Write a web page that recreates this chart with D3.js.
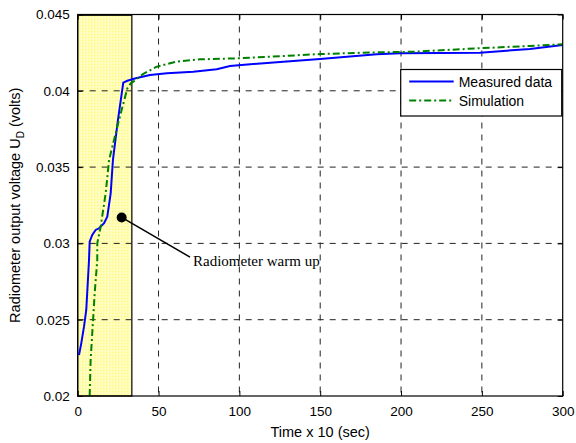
<!DOCTYPE html>
<html>
<head>
<meta charset="utf-8">
<script src="https://cdn.jsdelivr.net/npm/d3@7"></script>
<style>
  body { margin: 0; background: #fff; }
  svg { display: block; font-family: "Liberation Sans", Arial, sans-serif; }
</style>
</head>
<body>
<div id="chart"></div>
<script>
// values
const measuredX = [0.8, 2.2, 3.9, 5.3, 7.0, 7.4, 9.0, 11.1, 13.2, 16.3, 18.3, 20.4, 21.8, 24.9, 28.2, 30.7, 35.9, 44.7, 55.2, 71.5, 86, 94.2, 127.2, 149.9, 185, 199.4, 248.8, 279.7, 300];
const measuredY = [0.02269, 0.02345, 0.02454, 0.02564, 0.02891, 0.03011, 0.03055, 0.03088, 0.03099, 0.03132, 0.03175, 0.03328, 0.03547, 0.03809, 0.04053, 0.04066, 0.04082, 0.04104, 0.04115, 0.04125, 0.04141, 0.04163, 0.04191, 0.04208, 0.04239, 0.04246, 0.0425, 0.04274, 0.043];
const simX = [7.4, 8.0, 9.5, 10.5, 12.1, 12.1, 14.2, 17.3, 19.4, 24.9, 30.7, 32.8, 35.9, 40.4, 48.9, 61.2, 75.6, 99.3, 127.2, 149.9, 185, 207.6, 248.8, 279.7, 300];
const simY = [0.02, 0.02236, 0.02498, 0.02673, 0.02891, 0.03001, 0.03109, 0.03328, 0.03547, 0.03782, 0.04016, 0.04049, 0.04071, 0.0411, 0.04158, 0.04191, 0.04206, 0.04213, 0.04228, 0.04241, 0.04252, 0.04256, 0.04279, 0.04294, 0.04305];
const xTicks = [0, 50, 100, 150, 200, 250, 300];
const yTicks = [0.02, 0.025, 0.03, 0.035, 0.04, 0.045];
const warmupX = [0, 33.5];
const seriesNames = ["Measured data", "Simulation"];
const seriesColors = ["#0000ff", "#008000"];
const notePoint = [27.2, 0.0317];
const noteEnd = [69.5, 0.0291];
const noteText = "Radiometer warm up";

const W = 576, H = 443;
const margin = { left: 77.7, top: 14.5, right: 13.3, bottom: 47 };
const pw = W - margin.left - margin.right;
const ph = H - margin.top - margin.bottom;

const svg = d3.select("#chart").append("svg")
  .attr("width", W).attr("height", H);
svg.append("rect").attr("width", W).attr("height", H).attr("fill", "#fff");

const defs = svg.append("defs");
const pat = defs.append("pattern")
  .attr("id", "yel").attr("width", 3).attr("height", 3)
  .attr("patternUnits", "userSpaceOnUse");
pat.append("rect").attr("width", 3).attr("height", 3).attr("fill", "#fffa84");
pat.append("path").attr("d", "M0,0.5H3M0.5,0V3").attr("stroke", "#ffffd6").attr("stroke-width", 1);
defs.append("clipPath").attr("id", "clip")
  .append("rect").attr("width", pw).attr("height", ph);

const x = d3.scaleLinear().domain([0, 300]).range([0, pw]);
const y = d3.scaleLinear().domain([0.02, 0.045]).range([ph, 0]);

const g = svg.append("g").attr("transform", `translate(${margin.left},${margin.top})`);

// warm-up band
g.append("rect")
  .attr("x", x(warmupX[0])).attr("y", y(0.04495))
  .attr("width", x(warmupX[1]) - x(warmupX[0]))
  .attr("height", y(0.02) - y(0.04495))
  .attr("fill", "url(#yel)").attr("stroke", "#000").attr("stroke-width", 1.2);

// grid
g.append("g").selectAll("line").data(xTicks.slice(1, -1)).join("line")
  .attr("x1", d => x(d)).attr("x2", d => x(d)).attr("y1", 0).attr("y2", ph)
  .attr("stroke", "#222").attr("stroke-width", 1).attr("stroke-dasharray", "6,6");
g.append("g").selectAll("line").data(yTicks.slice(1, -1)).join("line")
  .attr("y1", d => y(d)).attr("y2", d => y(d)).attr("x1", 0).attr("x2", pw)
  .attr("stroke", "#222").attr("stroke-width", 1).attr("stroke-dasharray", "6,6");

// axes
const xAx = g.append("g").attr("transform", `translate(0,${ph})`)
  .call(d3.axisBottom(x).tickValues(xTicks).tickSizeInner(-5).tickSizeOuter(0).tickPadding(10).tickFormat(d3.format("d")));
const yAx = g.append("g")
  .call(d3.axisLeft(y).tickValues(yTicks).tickSizeInner(-5).tickSizeOuter(0).tickPadding(8).tickFormat(d => +d.toFixed(3) + ""));
g.append("g").attr("transform", `translate(0,0)`)
  .call(d3.axisTop(x).tickValues(xTicks).tickSizeInner(-5).tickSizeOuter(0).tickFormat(""));
g.append("g").attr("transform", `translate(${pw},0)`)
  .call(d3.axisRight(y).tickValues(yTicks).tickSizeInner(-5).tickSizeOuter(0).tickFormat(""));
g.selectAll(".domain").remove();
g.selectAll(".tick line").attr("stroke", "#000");
g.selectAll(".tick text").attr("font-family", "'Liberation Sans', Arial, sans-serif").attr("font-size", "13.5px").attr("fill", "#000");

// lines
const lineGen = d3.line().x(d => x(d[0])).y(d => y(d[1]));
const plot = g.append("g").attr("clip-path", "url(#clip)");
plot.append("path").datum(measuredX.map((v, i) => [v, measuredY[i]]))
  .attr("d", lineGen).attr("fill", "none").attr("stroke", seriesColors[0]).attr("stroke-width", 2);
plot.append("path").datum(simX.map((v, i) => [v, simY[i]]))
  .attr("d", lineGen).attr("fill", "none").attr("stroke", seriesColors[1]).attr("stroke-width", 2)
  .attr("stroke-dasharray", "7,3,2,3");

// frame
g.append("rect").attr("width", pw).attr("height", ph).attr("fill", "none").attr("stroke", "#000").attr("stroke-width", 1.2);

// annotation
g.append("line")
  .attr("x1", x(notePoint[0])).attr("y1", y(notePoint[1]))
  .attr("x2", x(noteEnd[0])).attr("y2", y(noteEnd[1]))
  .attr("stroke", "#000").attr("stroke-width", 1.5);
g.append("circle").attr("cx", x(notePoint[0])).attr("cy", y(notePoint[1])).attr("r", 5).attr("fill", "#000");
g.append("text").attr("x", x(noteEnd[0]) + 3).attr("y", y(noteEnd[1]) + 8.5)
  .attr("font-family", "'Liberation Serif', 'Times New Roman', serif").attr("font-size", "15px")
  .text(noteText);

// legend
const lg = g.append("g").attr("transform", `translate(${pw - 162},${55})`);
lg.append("rect").attr("width", 161).attr("height", 46.5).attr("fill", "#fff").attr("stroke", "#000").attr("stroke-width", 1.2);
seriesNames.forEach((name, i) => {
  const yy = 12 + i * 19;
  lg.append("line").attr("x1", 8.5).attr("x2", 53).attr("y1", yy).attr("y2", yy)
    .attr("stroke", seriesColors[i]).attr("stroke-width", 2)
    .attr("stroke-dasharray", i === 1 ? "7,3,2,3" : null);
  lg.append("text").attr("x", 58).attr("y", yy + 5).attr("font-size", "14px").text(name);
});

// axis labels
svg.append("text").attr("x", margin.left + pw / 2).attr("y", 436.5)
  .attr("text-anchor", "middle").attr("font-size", "14.5px").text("Time x 10 (sec)");
const yl = svg.append("text")
  .attr("transform", `translate(20,${margin.top + ph / 2}) rotate(-90)`)
  .attr("text-anchor", "middle").attr("font-size", "14.5px");
yl.append("tspan").text("Radiometer output voltage U");
yl.append("tspan").attr("font-size", "10px").attr("dy", 4).text("D");
yl.append("tspan").attr("dy", -4).text(" (volts)");
</script>
</body>
</html>
